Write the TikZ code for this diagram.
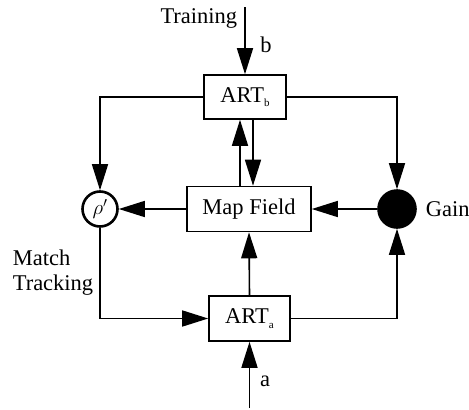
\documentclass[tikz,border=0pt]{standalone}
\usepackage{fontspec}
\setmainfont{Liberation Serif}
\usetikzlibrary{arrows.meta}
\newcommand{\artsub}[1]{\raisebox{-0.45ex}{\fontsize{11}{11}\selectfont #1}}
\begin{document}
\begin{tikzpicture}[x=1pt,y=-1pt,line width=1.6pt,
  box/.style={draw,inner sep=0pt,font=\fontsize{22.5}{25}\selectfont},
  arr/.style={-{Triangle[length=26pt,width=16pt]}},
  lbl/.style={font=\fontsize{22.5}{25}\selectfont,inner sep=0pt}]
\useasboundingbox (0,0) rectangle (469,410);
\node[box,minimum width=82pt,minimum height=44pt] (artb) at (245,97) {ART\artsub{b}};
\node[box,minimum width=124pt,minimum height=45pt] (mf) at (249,209) {Map Field};
\node[box,minimum width=81pt,minimum height=45pt] (arta) at (249.5,318.5) {ART\artsub{a}};
\node[draw,circle,line width=2.6pt,minimum size=35pt,inner sep=0pt,font=\fontsize{20}{20}\selectfont] (rho) at (100,209) {$\rho'$};
\node[draw,circle,fill=black,minimum size=38pt,inner sep=0pt] (gain) at (397,209) {};
\coordinate (tin) at (245,7);
\coordinate (ain) at (249.5,408);
\node[lbl,anchor=east] (ttrain) at (238,18) {Training};
\node[lbl] (tb) at (266,45) {b};
\node[lbl] (ta) at (265,381) {a};
\node[lbl,anchor=west] (tgain) at (425,209) {Gain};
\node[lbl,anchor=north west,align=left] (tmatch) at (12,249) {Match\\Tracking};
\draw[arr] (tin) -- (artb.north);
\draw[arr] ([xshift=-9pt]mf.north) -- ([xshift=-9pt]mf.north |- artb.south);
\draw[arr] ([xshift=4pt]mf.north |- artb.south) -- ([xshift=4pt]mf.north);
\draw[arr] (artb.west) -| (rho.north);
\draw[arr] (artb.east) -| (gain.north);
\draw[arr] (mf.west) -- (rho.east);
\draw[arr] (gain.west) -- (mf.east);
\draw[arr] (rho.south) |- (arta.west);
\draw[arr] (arta.east) -| (gain.south);
\draw[arr] (arta.north) -- (mf.south);
\draw[arr] (ain) -- (arta.south);
\end{tikzpicture}
\end{document}
